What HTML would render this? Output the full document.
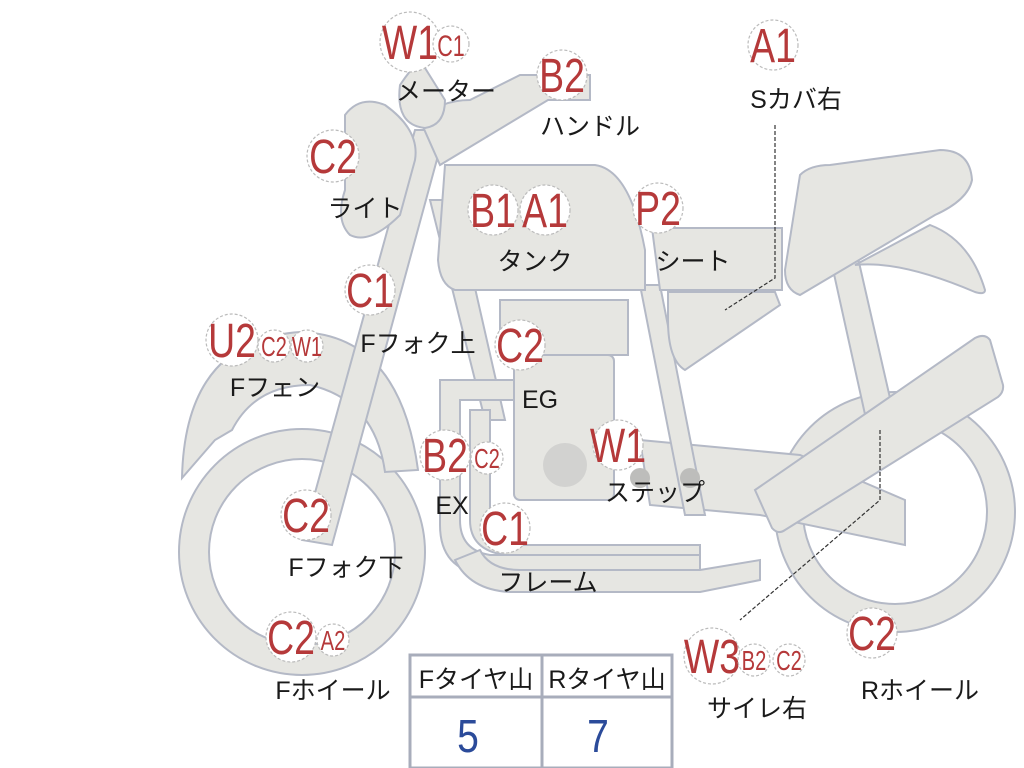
<!DOCTYPE html>
<html><head><meta charset="utf-8"><style>
html,body{margin:0;padding:0;background:#fff;width:1024px;height:768px;overflow:hidden}
svg{display:block}
.s{fill:#e6e6e2;stroke:#b4b9c6;stroke-width:2}
.c{fill:#fff;stroke:#bbb;stroke-width:1.2;stroke-dasharray:3 2}
.r{fill:#b5393a;font-family:"Liberation Sans",sans-serif;text-anchor:middle}
.k{fill:#1a1a1a;font-family:"Liberation Sans","Noto Sans CJK JP",sans-serif;font-size:25px;text-anchor:middle}
</style></head><body>
<svg width="1024" height="768" viewBox="0 0 1024 768" xmlns="http://www.w3.org/2000/svg">
<!-- rear wheel -->
<circle cx="895" cy="512" r="106" fill="none" stroke="#b4b9c6" stroke-width="30"/>
<circle cx="895" cy="512" r="106" fill="none" stroke="#e6e6e2" stroke-width="26"/>
<!-- front wheel -->
<circle cx="302" cy="552" r="108" fill="none" stroke="#b4b9c6" stroke-width="32"/>
<circle cx="302" cy="552" r="108" fill="none" stroke="#e6e6e2" stroke-width="28"/>
<!-- rear frame / swingarm -->
<polygon class="s" points="832,265 858,258 895,420 868,428"/>
<polygon class="s" points="640,440 800,455 905,500 905,545 760,515 650,505"/>
<!-- frame tubes -->
<polygon class="s" points="430,200 455,200 505,420 485,420"/>
<polygon class="s" points="640,285 660,285 705,515 685,515"/>
<path class="s" d="M440,380 H520 V400 H460 V520 Q460,550 490,555 H700 V575 H485 Q440,570 440,525 Z"/>
<path class="s" d="M470,410 H490 V520 Q495,540 520,545 H700 V555 H505 Q470,550 470,520 Z"/>
<path class="s" d="M455,560 Q470,590 510,592 H700 L760,580 L760,560 L700,570 H520 Q490,570 480,550 Z"/>
<!-- engine -->
<rect class="s" x="500" y="300" width="128" height="55"/>
<rect class="s" x="514" y="355" width="100" height="145" rx="6"/>
<circle cx="565" cy="465" r="22" fill="#d2d2d0"/>
<circle cx="640" cy="478" r="10" fill="#bdbdbb"/>
<circle cx="690" cy="478" r="10" fill="#bdbdbb"/>
<!-- tank -->
<path class="s" d="M445,165 H595 Q630,170 645,250 V290 H455 Q440,285 438,260 Z"/>
<!-- seat -->
<path class="s" d="M652,228 H782 V290 H660 Z"/>
<path class="s" d="M668,292 H775 L780,305 L685,370 Q668,360 668,320 Z"/>
<path class="s" d="M930,225 Q970,240 985,290 Q985,295 975,292 Q900,260 855,265 Z"/>
<path class="s" d="M800,175 Q810,165 830,165 L940,150 Q970,150 972,180 Q968,200 935,215 L800,295 Q785,290 785,270 Z"/>
<!-- muffler -->
<path class="s" d="M755,490 L975,338 Q985,333 990,340 L1003,385 Q1004,392 998,397 L785,530 Q778,535 772,528 Z"/>
<!-- fender -->
<path class="s" d="M182,478 Q185,340 300,332 Q400,335 418,470 L385,472 Q375,400 310,385 Q255,385 232,430 L215,440 Z"/>
<!-- fork -->
<polygon class="s" points="415,130 445,130 332,545 302,540"/>
<!-- light -->
<path class="s" d="M345,115 Q360,95 385,105 Q420,130 415,160 L400,215 Q370,245 350,235 Q335,220 345,190 Z"/>
<!-- handlebar & meter -->
<path class="s" d="M420,120 Q440,100 470,100 L520,75 H590 V100 H548 L440,165 Z"/>
<path class="s" d="M400,85 Q410,70 420,60 L445,100 Q445,125 425,128 Q395,125 400,85 Z"/>
<!-- leader lines -->
<path d="M775,125 V278 L725,310" fill="none" stroke="#333" stroke-width="1.2" stroke-dasharray="4 2"/>
<path d="M880,430 V500 L740,620" fill="none" stroke="#333" stroke-width="1.2" stroke-dasharray="4 2"/>
<!-- table -->
<rect x="410" y="655" width="262" height="113" fill="#fff" stroke="#a8adbb" stroke-width="3"/>
<line x1="410" y1="697" x2="672" y2="697" stroke="#a8adbb" stroke-width="3"/>
<line x1="542" y1="655" x2="542" y2="768" stroke="#a8adbb" stroke-width="3"/>
<text class="k" x="476" y="688">Fタイヤ山</text>
<text class="k" x="607" y="688">Rタイヤ山</text>
<text x="468" y="752" font-family="Liberation Sans,sans-serif" font-size="46" fill="#2b4b9a" text-anchor="middle" transform="translate(468,0) scale(0.85,1) translate(-468,0)">5</text>
<text x="598" y="752" font-family="Liberation Sans,sans-serif" font-size="46" fill="#2b4b9a" text-anchor="middle" transform="translate(598,0) scale(0.85,1) translate(-598,0)">7</text>

<!-- badges -->
<g>
<circle class="c" cx="410" cy="42" r="30"/><text class="r" font-size="48" transform="translate(410,59) scale(0.78,1)">W1</text>
<circle class="c" cx="451" cy="44" r="18"/><text class="r" font-size="30" transform="translate(451,56) scale(0.72,1)">C1</text>
<circle class="c" cx="562" cy="75" r="25"/><text class="r" font-size="48" transform="translate(562,92) scale(0.78,1)">B2</text>
<circle class="c" cx="773" cy="45" r="25"/><text class="r" font-size="48" transform="translate(773,62) scale(0.78,1)">A1</text>
<circle class="c" cx="333" cy="156" r="26"/><text class="r" font-size="48" transform="translate(333,173) scale(0.78,1)">C2</text>
<circle class="c" cx="493" cy="210" r="25"/><text class="r" font-size="48" transform="translate(493,227) scale(0.78,1)">B1</text>
<circle class="c" cx="545" cy="210" r="25"/><text class="r" font-size="48" transform="translate(545,227) scale(0.78,1)">A1</text>
<circle class="c" cx="658" cy="208" r="25"/><text class="r" font-size="48" transform="translate(658,225) scale(0.78,1)">P2</text>
<circle class="c" cx="370" cy="290" r="25"/><text class="r" font-size="48" transform="translate(370,307) scale(0.78,1)">C1</text>
<circle class="c" cx="232" cy="340" r="26"/><text class="r" font-size="48" transform="translate(232,357) scale(0.78,1)">U2</text>
<circle class="c" cx="274" cy="346" r="16"/><text class="r" font-size="28" transform="translate(274,356) scale(0.72,1)">C2</text>
<circle class="c" cx="307" cy="346" r="16"/><text class="r" font-size="28" transform="translate(307,356) scale(0.72,1)">W1</text>
<circle class="c" cx="520" cy="345" r="25"/><text class="r" font-size="48" transform="translate(520,362) scale(0.78,1)">C2</text>
<circle class="c" cx="445" cy="455" r="25"/><text class="r" font-size="48" transform="translate(445,472) scale(0.78,1)">B2</text>
<circle class="c" cx="487" cy="458" r="16"/><text class="r" font-size="28" transform="translate(487,468) scale(0.72,1)">C2</text>
<circle class="c" cx="618" cy="445" r="25"/><text class="r" font-size="48" transform="translate(618,462) scale(0.78,1)">W1</text>
<circle class="c" cx="306" cy="515" r="25"/><text class="r" font-size="48" transform="translate(306,532) scale(0.78,1)">C2</text>
<circle class="c" cx="505" cy="528" r="25"/><text class="r" font-size="48" transform="translate(505,545) scale(0.78,1)">C1</text>
<circle class="c" cx="291" cy="637" r="25"/><text class="r" font-size="48" transform="translate(291,654) scale(0.78,1)">C2</text>
<circle class="c" cx="333" cy="640" r="16"/><text class="r" font-size="28" transform="translate(333,650) scale(0.72,1)">A2</text>
<circle class="c" cx="712" cy="656" r="28"/><text class="r" font-size="48" transform="translate(712,673) scale(0.78,1)">W3</text>
<circle class="c" cx="754" cy="660" r="16"/><text class="r" font-size="28" transform="translate(754,670) scale(0.72,1)">B2</text>
<circle class="c" cx="789" cy="660" r="16"/><text class="r" font-size="28" transform="translate(789,670) scale(0.72,1)">C2</text>
<circle class="c" cx="872" cy="633" r="25"/><text class="r" font-size="48" transform="translate(872,650) scale(0.78,1)">C2</text>
</g>
<!-- labels -->
<text class="k" x="446" y="100">メーター</text>
<text class="k" x="590" y="135">ハンドル</text>
<text class="k" x="796" y="108">Sカバ右</text>
<text class="k" x="365" y="217">ライト</text>
<text class="k" x="535" y="270">タンク</text>
<text class="k" x="693" y="270">シート</text>
<text class="k" x="418" y="352">Fフォク上</text>
<text class="k" x="275" y="396">Fフェン</text>
<text class="k" x="540" y="408">EG</text>
<text class="k" x="655" y="501">ステップ</text>
<text class="k" x="452" y="514">EX</text>
<text class="k" x="346" y="576">Fフォク下</text>
<text class="k" x="548" y="591">フレーム</text>
<text class="k" x="333" y="699">Fホイール</text>
<text class="k" x="757" y="717">サイレ右</text>
<text class="k" x="920" y="699">Rホイール</text>
</svg>
</body></html>
